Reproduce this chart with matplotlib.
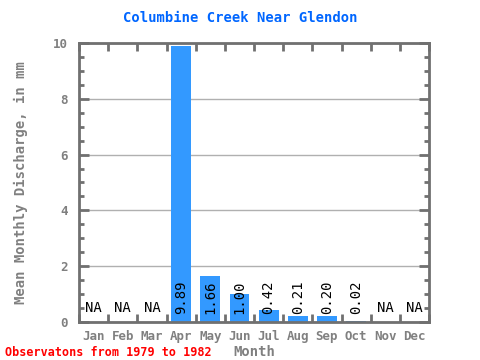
import numpy as np
import matplotlib
matplotlib.use('Agg')
from matplotlib import pyplot as plt
from matplotlib.ticker import MultipleLocator

months = ['Jan', 'Feb', 'Mar', 'Apr', 'May', 'Jun', 'Jul', 'Aug', 'Sep', 'Oct', 'Nov', 'Dec']
discharge = [np.nan, np.nan, np.nan, 9.89, 1.66, 1.00, 0.42, 0.21, 0.20, 0.02, np.nan, np.nan]
labels = ['NA', 'NA', 'NA', '9.89', '1.66', '1.00', '0.42', '0.21', '0.20', '0.02', 'NA', 'NA']

mono = 'DejaVu Sans Mono'
grey = '#808080'
axc = '#707070'

fig = plt.figure(figsize=(4.8, 3.6), dpi=100)
ax = fig.add_axes([0.1646, 0.1056, 0.7292, 0.775])

x = np.arange(len(months))
vals = np.nan_to_num(discharge)
ax.bar(x, vals, width=0.68, color='#3399ff', zorder=2)

for xi, v, lab in zip(x, discharge, labels):
    if np.isnan(v):
        ax.text(xi, 0.5, lab, ha='center', va='center', fontsize=10, family=mono, color='black', zorder=3)
    else:
        ax.text(xi, 0.3, lab, ha='center', va='bottom', rotation=90, fontsize=10, family=mono,
                color='black', zorder=3)

ax.set_xlim(-0.5, 11.5)
ax.set_ylim(0, 10)
ax.set_xticks(x)
ax.set_xticklabels(months)
ax.xaxis.set_minor_locator(MultipleLocator(1, offset=0.5))
ax.yaxis.set_major_locator(MultipleLocator(2))
ax.yaxis.set_minor_locator(MultipleLocator(0.5))

ax.grid(axis='y', which='major', color='#b0b0b0', linewidth=1, zorder=1)

for s in ax.spines.values():
    s.set_color(axc)
    s.set_linewidth(2)

ax.tick_params(axis='x', which='major', length=0, pad=6, labelsize=9, labelcolor=grey)
ax.tick_params(axis='x', which='minor', direction='in', length=6, width=2, color=axc, top=True, bottom=True)
ax.tick_params(axis='y', which='major', direction='in', length=7, width=2, color=axc, left=True, right=True,
               labelsize=9, labelcolor=grey, pad=8)
ax.tick_params(axis='y', which='minor', direction='in', length=3.5, width=2, color=axc, left=True, right=True)
for t in ax.get_xticklabels() + ax.get_yticklabels():
    t.set_family(mono)
    t.set_fontweight('bold')

ax.set_xlabel('Month', fontsize=10, family=mono, fontweight='bold', color=grey, labelpad=1)
ax.set_ylabel('Mean Monthly Discharge, in mm', fontsize=10, family=mono, fontweight='bold', color=grey, labelpad=18)
fig.text(0.5, 0.95, 'Columbine Creek Near Glendon', ha='center', va='center', fontsize=10,
         family=mono, fontweight='bold', color='#0066ff')
fig.text(0.01, 0.022, 'Observatons from 1979 to 1982', ha='left', va='center', fontsize=8.5,
         family=mono, fontweight='bold', color='red')

fig.savefig('out.png', dpi=100)
